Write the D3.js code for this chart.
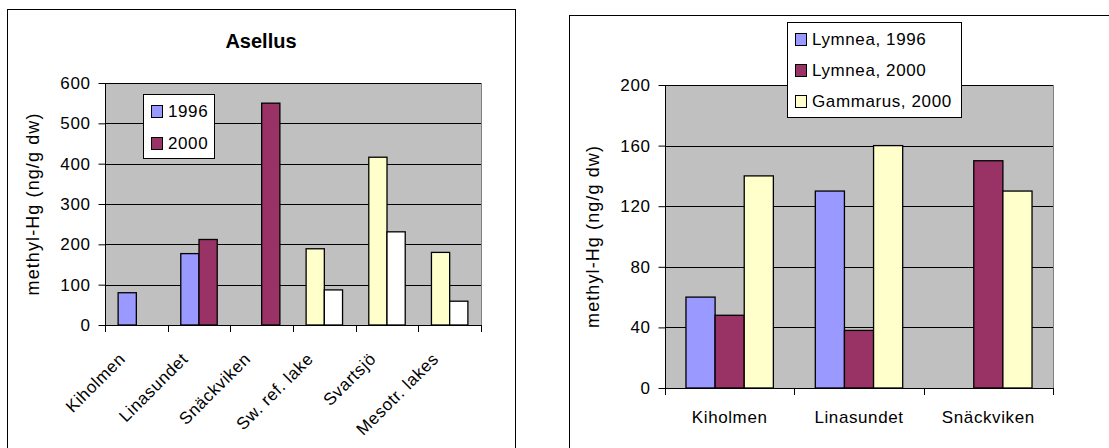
<!DOCTYPE html>
<html>
<head>
<meta charset="utf-8">
<script src="https://cdn.jsdelivr.net/npm/d3@7"></script>
<style>
  html, body { margin: 0; padding: 0; background: #fff; overflow: hidden; }
  svg { display: block; font-family: "Liberation Sans", Arial, sans-serif; }
</style>
</head>
<body>
<svg id="chart" width="1109" height="448"></svg>
<script>
// ---------- data ----------
const leftTitle = "Asellus";
const leftCategories = ["Kiholmen", "Linasundet", "Snäckviken", "Sw. ref. lake", "Svartsjö", "Mesotr. lakes"];
const leftSeriesNames = ["1996", "2000"];
const left1996 = [80, 177, null, 189, 416, 180];
const left2000 = [null, 212, 550, 87, 231, 59];
const leftTicks = [0, 100, 200, 300, 400, 500, 600];

const rightCategories = ["Kiholmen", "Linasundet", "Snäckviken"];
const rightSeriesNames = ["Lymnea, 1996", "Lymnea, 2000", "Gammarus, 2000"];
const lymnea1996 = [60, 130, null];
const lymnea2000 = [48, 38, 150];
const gammarus2000 = [140, 160, 130];
const rightTicks = [0, 40, 80, 120, 160, 200];

const yAxisTitle = "methyl-Hg (ng/g dw)";

// ---------- colours ----------
const BLUE = "#9999FF", MAROON = "#993366", YELLOW = "#FFFFCC", WHITE = "#FFFFFF";
const leftColors1996 = [BLUE, BLUE, BLUE, YELLOW, YELLOW, YELLOW];
const leftColors2000 = [MAROON, MAROON, MAROON, WHITE, WHITE, WHITE];
const rightColors = [BLUE, MAROON, YELLOW];

const svg = d3.select("#chart");
const FS = 17;

function frame(x0, y0, x1, y1) {
  svg.append("rect").attr("x", x0 + 0.5).attr("y", y0 + 0.5)
    .attr("width", x1 - x0).attr("height", y1 - y0)
    .attr("fill", "#fff").attr("stroke", "#000").attr("stroke-width", 1);
}

function plotBase(g, x0, x1, y, ticks) {
  const top = y.range()[1], bot = y.range()[0];
  g.append("rect").attr("x", x0 + 0.5).attr("y", top + 0.5).attr("width", x1 - x0).attr("height", bot - top)
    .attr("fill", "#C0C0C0").attr("stroke", "#808080").attr("stroke-width", 1);
  g.selectAll(".grid").data(ticks.filter(t => t !== 0)).join("line")
    .attr("x1", x0).attr("x2", x1)
    .attr("y1", d => Math.round(y(d)) + 0.5).attr("y2", d => Math.round(y(d)) + 0.5)
    .attr("stroke", "#000").attr("stroke-width", 1);
}

function yAxisDraw(g, x0, y, ticks) {
  const ax = d3.axisLeft(y).tickValues(ticks).tickSize(7).tickPadding(8).tickFormat(d3.format("d"));
  const a = g.append("g").attr("transform", `translate(${x0 + 0.5},0)`).call(ax);
  a.select(".domain").attr("stroke", "#000").attr("d", `M0,${y.range()[1]}V${y.range()[0]}`);
  a.selectAll("line").attr("stroke", "#000");
  a.selectAll("text").attr("font-size", FS).attr("fill", "#000")
    .attr("font-family", '"Liberation Sans", Arial, sans-serif').attr("letter-spacing", 0.6);
}

function xAxisDraw(g, y0, x0, x1, nCats) {
  const step = (x1 - x0) / nCats;
  g.append("line").attr("x1", x0).attr("x2", x1).attr("y1", y0 + 0.5).attr("y2", y0 + 0.5)
    .attr("stroke", "#000");
  const bounds = d3.range(nCats + 1).map(i => x0 + i * step);
  g.selectAll(".xt").data(bounds).join("line")
    .attr("x1", d => Math.round(d) + 0.5).attr("x2", d => Math.round(d) + 0.5)
    .attr("y1", y0).attr("y2", y0 + 7).attr("stroke", "#000");
}

function yTitle(cx, cy) {
  svg.append("text").attr("transform", `translate(${cx},${cy}) rotate(-90)`)
    .attr("text-anchor", "middle").attr("dominant-baseline", "central")
    .attr("font-size", 18).attr("letter-spacing", 1.1).text(yAxisTitle);
}

// ================= LEFT CHART =================
frame(7, 9, 515, 452);
{
  const X0 = 105, X1 = 481, Y0 = 325, Y1 = 83;
  const y = d3.scaleLinear().domain([0, 600]).range([Y0, Y1]);
  const x = d3.scaleBand().domain(leftCategories).range([X0, X1]).padding(0);
  const sub = d3.scaleBand().domain(leftSeriesNames).range([0, x.bandwidth()]).paddingInner(0).paddingOuter(0.72);
  const g = svg.append("g");
  plotBase(g, X0, X1, y, leftTicks);

  const series = [
    { name: leftSeriesNames[0], values: left1996, colors: leftColors1996 },
    { name: leftSeriesNames[1], values: left2000, colors: leftColors2000 }
  ];
  series.forEach(s => {
    const pts = leftCategories.map((c, i) => ({ c, v: s.values[i], col: s.colors[i] })).filter(d => d.v != null);
    g.selectAll(null).data(pts).join("rect")
      .attr("x", d => x(d.c) + sub(s.name))
      .attr("y", d => y(d.v))
      .attr("width", sub.bandwidth())
      .attr("height", d => y(0) - y(d.v))
      .attr("fill", d => d.col).attr("stroke", "#000").attr("stroke-width", 1.3);
  });
  xAxisDraw(g, Y0, X0, X1, leftCategories.length);
  yAxisDraw(g, X0, y, leftTicks);

  g.selectAll(".xl").data(leftCategories).join("text")
    .attr("transform", d => `translate(${x(d) + x.bandwidth() / 2 - 10},${Y0 + 35}) rotate(-45)`)
    .attr("text-anchor", "end").attr("font-size", FS).attr("letter-spacing", 0.6)
    .text(d => d);

  svg.append("text").attr("x", 261).attr("y", 48).attr("text-anchor", "middle")
    .attr("font-size", 20).attr("font-weight", "bold").text(leftTitle);
  yTitle(33, (Y0 + Y1) / 2);

  const lg = svg.append("g");
  lg.append("rect").attr("x", 143.5).attr("y", 94.5).attr("width", 71).attr("height", 64)
    .attr("fill", "#fff").attr("stroke", "#000");
  const legCols = [BLUE, MAROON];
  leftSeriesNames.forEach((n, i) => {
    lg.append("rect").attr("x", 151.5).attr("y", 105.5 + i * 32).attr("width", 11).attr("height", 12)
      .attr("fill", legCols[i]).attr("stroke", "#000");
    lg.append("text").attr("x", 168).attr("y", 117 + i * 32).attr("font-size", FS)
      .attr("letter-spacing", 0.6).text(n);
  });
}

// ================= RIGHT CHART =================
frame(569, 15, 1112, 452);
{
  const X0 = 665, X1 = 1053, Y0 = 388, Y1 = 85;
  const y = d3.scaleLinear().domain([0, 200]).range([Y0, Y1]);
  const x = d3.scaleBand().domain(rightCategories).range([X0, X1]).padding(0);
  const sub = d3.scaleBand().domain(rightSeriesNames).range([0, x.bandwidth()]).paddingInner(0).paddingOuter(0.72);
  const g = svg.append("g");
  plotBase(g, X0, X1, y, rightTicks);

  const series = [lymnea1996, lymnea2000, gammarus2000];
  series.forEach((vals, si) => {
    const name = rightSeriesNames[si];
    const pts = rightCategories.map((c, i) => ({ c, v: vals[i] })).filter(d => d.v != null);
    g.selectAll(null).data(pts).join("rect")
      .attr("x", d => x(d.c) + sub(name))
      .attr("y", d => y(d.v))
      .attr("width", sub.bandwidth())
      .attr("height", d => y(0) - y(d.v))
      .attr("fill", rightColors[si]).attr("stroke", "#000").attr("stroke-width", 1.3);
  });
  xAxisDraw(g, Y0, X0, X1, rightCategories.length);
  yAxisDraw(g, X0, y, rightTicks);

  g.selectAll(".xl").data(rightCategories).join("text")
    .attr("x", d => x(d) + x.bandwidth() / 2).attr("y", 423)
    .attr("text-anchor", "middle").attr("font-size", FS).attr("letter-spacing", 0.6)
    .text(d => d);

  yTitle(593, (Y0 + Y1) / 2);

  const lg = svg.append("g");
  lg.append("rect").attr("x", 787.5).attr("y", 22.5).attr("width", 174).attr("height", 95)
    .attr("fill", "#fff").attr("stroke", "#000");
  rightSeriesNames.forEach((n, i) => {
    lg.append("rect").attr("x", 795.5).attr("y", 33.5 + i * 31).attr("width", 11).attr("height", 12)
      .attr("fill", rightColors[i]).attr("stroke", "#000");
    lg.append("text").attr("x", 812).attr("y", 45 + i * 31).attr("font-size", FS)
      .attr("letter-spacing", 0.6).text(n);
  });
}
</script>
</body>
</html>
